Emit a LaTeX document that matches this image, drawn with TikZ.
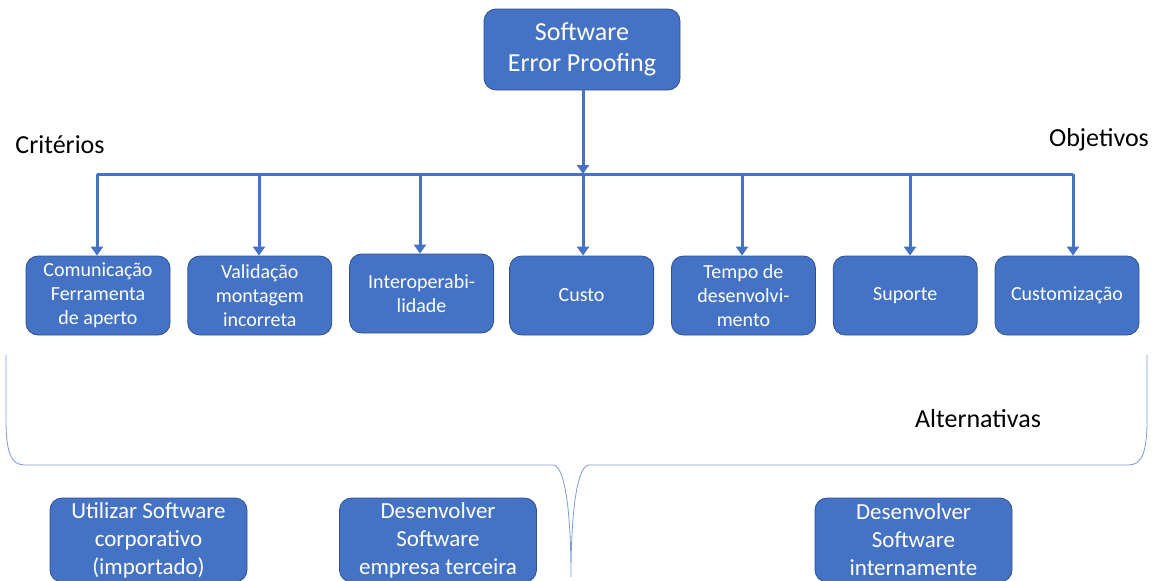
\documentclass[tikz,border=0pt]{standalone}
\usepackage{fontspec}
\setmainfont{Carlito}
\usetikzlibrary{arrows.meta,positioning}

\definecolor{boxblue}{HTML}{4472C4}
\definecolor{boxedge}{HTML}{2F528F}
\definecolor{bracecol}{HTML}{7A9BD6}

\tikzset{
  goalbox/.style={rectangle, rounded corners=12pt, draw=boxedge, line width=0.8pt,
    fill=boxblue, text=white, align=center, inner sep=2pt},
  critbox/.style={goalbox, minimum width=144pt, minimum height=79pt,
    font=\fontsize{20}{24}\selectfont},
  altbox/.style={goalbox, minimum width=197pt, minimum height=84pt,
    font=\fontsize{23}{28}\selectfont},
  link/.style={draw=boxblue, line width=3pt},
  label/.style={font=\fontsize{26}{30}\selectfont, text=black}
}

\begin{document}
\begin{tikzpicture}[x=1pt,y=-1pt,>={Triangle[width=12pt,length=9pt]}]
    \useasboundingbox (0,0) rectangle (1157,581);

    \node[goalbox, minimum width=196pt, minimum height=81pt,
          font=\fontsize{26}{31}\selectfont] (SEP) at (582,49.5) {Software\\Error Proofing};

    \node[critbox] (C1) at (98,295.5) {Comunicação\\Ferramenta\\de aperto};
    \node[critbox] (C2) [right=17pt of C1] {Validação\\montagem\\incorreta};
    \node[critbox] (C3) [right=17pt of C2, yshift=2pt] {Interoperabi-\\lidade};
    \node[critbox] (C4) [right=16pt of C2, xshift=161pt] {Custo};
    \node[critbox] (C5) [right=17pt of C4] {Tempo de\\desenvolvi-\\mento};
    \node[critbox] (C6) [right=17pt of C5] {Suporte};
    \node[critbox] (C7) [right=17pt of C6] {Customização};

    % bar with the drops
    \coordinate (B1) at (97,174);
    \coordinate (B2) at (259,174);
    \coordinate (B3) at (420,174);
    \coordinate (B4) at (583,174);
    \coordinate (B5) at (742,174);
    \coordinate (B6) at (910,174);
    \coordinate (B7) at (1073,174);

    \draw[link,->] (SEP.south -| B4) -- (B4);
    \draw[link] (B1) -- (B7);
    \foreach \i in {1,...,7}
      \draw[link,->] (B\i) -- (B\i |- C\i.north);

    \node[label] (crit) at (60,145) {Critérios};
    \node[label] (obj) at (1099,140) {Objetivos};
    \node[label] (alt) at (978,419) {Alternativas};

    % brace round the criteria
    \draw[bracecol, line width=0.8pt] (6,355) -- (6,420)
      .. controls (6,455) and (12,465) .. (25,465) -- (553,465)
      .. controls (563,465) and (571,500) .. (571,577)
      .. controls (571,500) and (579,465) .. (589,465) -- (1128,465)
      .. controls (1141,465) and (1147,455) .. (1147,420) -- (1147,355);

    \node[altbox] (A1) at (148.5,540) {Utilizar Software\\corporativo\\(importado)};
    \node[altbox] (A2) at (438,540) {Desenvolver\\Software\\empresa terceira};
    \node[altbox] (A3) at (913.5,540) {Desenvolver\\Software\\internamente};
\end{tikzpicture}
\end{document}
